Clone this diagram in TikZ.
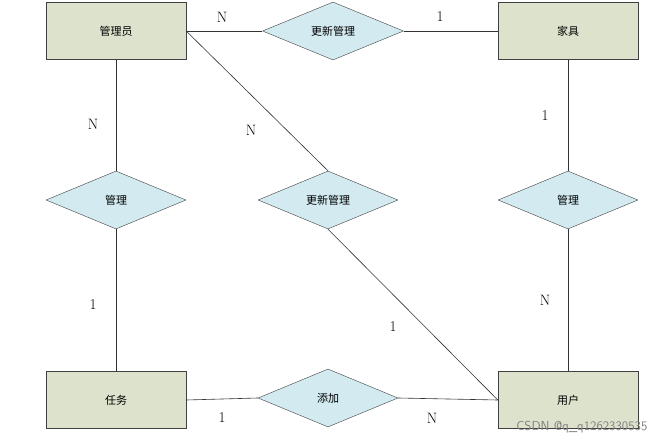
\documentclass[tikz,border=0pt]{standalone}
\usepackage{fontspec}
\newfontfamily\cjk{Noto Sans CJK SC}
\usetikzlibrary{shapes.geometric}
\begin{document}
\begin{tikzpicture}[x=1pt,y=-1pt,
 ent/.style={draw=black!75,fill={rgb,255:red,221;green,226;blue,204},minimum width=140pt,minimum height=57pt,inner sep=0,font=\cjk\fontsize{11}{13}\selectfont},
 rel/.style={diamond,draw=black!75,fill={rgb,255:red,210;green,234;blue,240},minimum width=140pt,minimum height=58pt,inner sep=0,aspect=2.4,font=\cjk\fontsize{11}{13}\selectfont},
 lab/.style={font=\fontsize{15}{17}\selectfont},
 ln/.style={draw=black!80,line width=0.6pt}]
\useasboundingbox (0,0) rectangle (665,447);
\node[ent] (gly) at (116,31) {管理员};
\node[ent] (jj) at (568,31) {家具};
\node[ent] (rw) at (116,400) {任务};
\node[ent] (yh) at (568,400) {用户};
\node[rel,minimum width=141pt] (gx1) at (333,31) {更新管理};
\node[rel] (gl1) at (116,200) {管理};
\node[rel] (gx2) at (328,200) {更新管理};
\node[rel] (gl2) at (568,200) {管理};
\node[rel] (tj) at (328,398) {添加};
\draw[ln] (gly.east) -- (gx1.west);
\draw[ln] (gx1.east) -- (jj.west);
\draw[ln] (gly.east) -- (gx2.north);
\draw[ln] (gx2.south) -- (yh.west);
\draw[ln] (gly.south) -- (gl1.north);
\draw[ln] (gl1.south) -- (rw.north);
\draw[ln] (jj.south) -- (gl2.north);
\draw[ln] (gl2.south) -- (yh.north);
\draw[ln] (rw.east) -- (tj.west);
\draw[ln] (tj.east) -- (yh.west);
\node[lab] (l1) at (222,17) {N};
\node[lab] (l2) at (440,17) {1};
\node[lab] (l3) at (93,124) {N};
\node[lab] (l4) at (93,305) {1};
\node[lab] (l5) at (251,130) {N};
\node[lab] (l6) at (393,327) {1};
\node[lab] (l7) at (545,116) {1};
\node[lab] (l8) at (545,300) {N};
\node[lab] (l9) at (222,418) {1};
\node[lab] (l10) at (432,418) {N};
\node[anchor=east,text=black!50,font=\fontfamily{lmss}\fontsize{13}{15}\selectfont] (wm) at (651,427) {CSDN @q\_q1262330535};
\end{tikzpicture}
\end{document}
